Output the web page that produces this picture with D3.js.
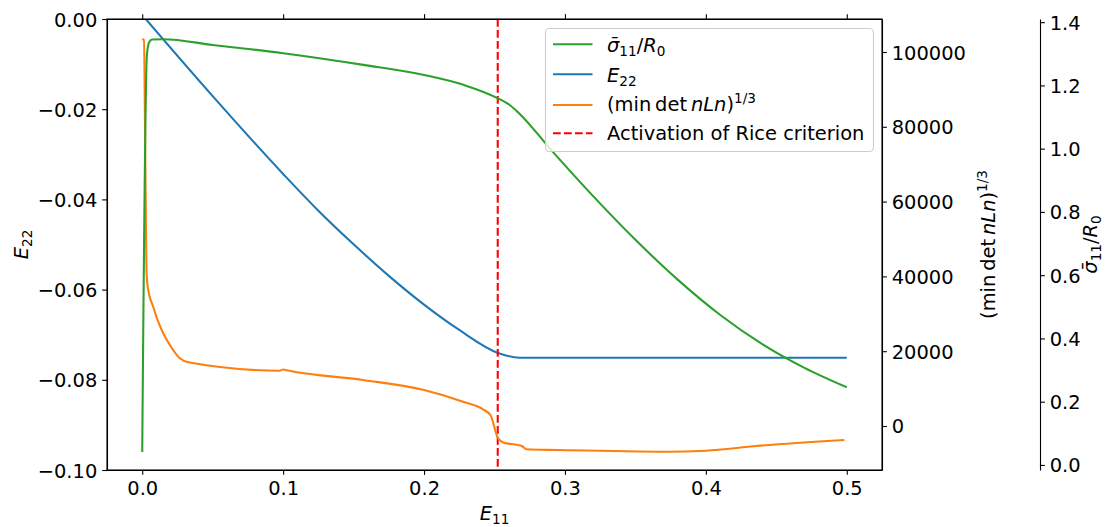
<!DOCTYPE html>
<html><head><meta charset="utf-8">
<script src="https://cdn.jsdelivr.net/npm/d3@7"></script>
<style>body{margin:0;background:#fff} svg{display:block} text{font-family:"DejaVu Sans",sans-serif;fill:#000}</style>
</head><body><svg id="c" width="1105" height="527"></svg>
<script>
// ---- data ----
const xTicks = [0, 0.1, 0.2, 0.3, 0.4, 0.5];
const e22Ticks = [0, -0.02, -0.04, -0.06, -0.08, -0.1];
const detTicks = [0, 20000, 40000, 60000, 80000, 100000];
const sigmaTicks = [0, 0.2, 0.4, 0.6, 0.8, 1.0, 1.2, 1.4];

const greenE11 = [0, 0.0033, 0.005, 0.007, 0.015, 0.05, 0.1, 0.157, 0.2, 0.2285, 0.2525, 0.2608, 0.2679, 0.29, 0.32, 0.35, 0.38, 0.41, 0.44, 0.47, 0.5];
const greenSigma = [0.041, 1.296, 1.337, 1.345, 1.346, 1.328, 1.302, 1.265, 1.233, 1.201, 1.159, 1.138, 1.110, 0.997, 0.850, 0.712, 0.586, 0.475, 0.382, 0.307, 0.2455];

const blueE11 = [0, 0.05, 0.1, 0.125, 0.15, 0.175, 0.2, 0.225, 0.2525, 0.2679, 0.3, 0.4, 0.5];
const blueE22 = [0.0009, -0.0171, -0.03435, -0.0425, -0.04995, -0.05695, -0.06333, -0.06895, -0.07404, -0.0751, -0.0751, -0.0751, -0.0751];

const orangeE11 = [0, 0.0012, 0.0021, 0.0026, 0.0031, 0.00426, 0.0078, 0.01135, 0.0149, 0.0196, 0.0267, 0.0326, 0.0977, 0.1, 0.1025, 0.1567, 0.2, 0.2277, 0.2418, 0.2471, 0.2523, 0.2565, 0.2667, 0.27, 0.2726, 0.294, 0.372, 0.4, 0.436, 0.4983];
const orangeDet = [103500, 103200, 75000, 55000, 40829, 36364, 31898, 27888, 24786, 21658, 18102, 17032, 14786, 15107, 14893, 12299, 9626, 6497, 4465, 2941, -3075, -4465, -5080, -5481, -6230, -6417, -6872, -6604, -5348, -3743];

const riceE11 = 0.2523;

// ---- layout ----
const L = 107, R = 882, T = 19, B = 470, AX3 = 1040;
const FS = 19.44, TL = 4.86, LW = 2.08, SW = 1.1;
const svg = d3.select('#c');

const x = d3.scaleLinear().domain([-0.025, 0.525]).range([L, R]);
const yE = d3.scaleLinear().domain([-0.1, 0]).range([B, T]);
const yD = d3.scaleLinear().domain([-11765, 108824]).range([B, T]);
const yS = d3.scaleLinear().domain([-0.016, 1.41]).range([B, T]);

svg.append('defs').append('clipPath').attr('id', 'clip')
  .append('rect').attr('x', L).attr('y', T).attr('width', R - L).attr('height', B - T);

function styleAxis(g) {
  g.attr('font-family', '"DejaVu Sans",sans-serif').attr('font-size', FS);
  g.selectAll('.domain').attr('stroke', '#000').attr('stroke-width', SW);
  g.selectAll('.tick line').attr('stroke', '#000').attr('stroke-width', SW);
  g.selectAll('.tick text').attr('fill', '#000');
}

// lines
const plot = svg.append('g').attr('clip-path', 'url(#clip)');
const zip = (a, b) => a.map((v, i) => [v, b[i]]);

plot.append('path').datum(zip(blueE11, blueE22))
  .attr('fill', 'none').attr('stroke', '#1f77b4').attr('stroke-width', LW)
  .attr('d', d3.line().x(d => x(d[0])).y(d => yE(d[1])).curve(d3.curveMonotoneX));

plot.append('line').attr('x1', x(riceE11)).attr('x2', x(riceE11)).attr('y1', T).attr('y2', B)
  .attr('stroke', '#ff0000').attr('stroke-width', LW).attr('stroke-dasharray', '7.7,3.3');

plot.append('path').datum(zip(orangeE11, orangeDet))
  .attr('fill', 'none').attr('stroke', '#ff7f0e').attr('stroke-width', LW).attr('stroke-linejoin', 'round')
  .attr('d', d3.line().x(d => x(d[0])).y(d => yD(d[1])).curve(d3.curveMonotoneX));

plot.append('path').datum(zip(greenE11, greenSigma))
  .attr('fill', 'none').attr('stroke', '#2ca02c').attr('stroke-width', LW)
  .attr('d', d3.line().x(d => x(d[0])).y(d => yS(d[1])).curve(d3.curveMonotoneX));

// axes
const gx = svg.append('g').attr('transform', `translate(0,${B})`)
  .call(d3.axisBottom(x).tickValues(xTicks).tickFormat(d3.format('.1f')).tickSize(TL).tickSizeOuter(0).tickPadding(TL));
styleAxis(gx);
gx.selectAll('.tick text').attr('y', 0).attr('dy', 25);

const gxt = svg.append('g').attr('transform', `translate(0,${T})`)
  .call(d3.axisTop(x).tickValues(xTicks).tickFormat('').tickSize(TL).tickSizeOuter(0));
styleAxis(gxt);

const gl = svg.append('g').attr('transform', `translate(${L},0)`)
  .call(d3.axisLeft(yE).tickValues(e22Ticks).tickFormat(d3.format('.2f')).tickSize(TL).tickSizeOuter(0).tickPadding(TL));
styleAxis(gl);
gl.selectAll('.tick text').attr('dy', '0.36em');

const gr = svg.append('g').attr('transform', `translate(${R},0)`)
  .call(d3.axisRight(yD).tickValues(detTicks).tickFormat(d3.format('d')).tickSize(TL).tickSizeOuter(0).tickPadding(TL));
styleAxis(gr);
gr.selectAll('.tick text').attr('dy', '0.36em');

const gs = svg.append('g').attr('transform', `translate(${AX3},0)`)
  .call(d3.axisRight(yS).tickValues(sigmaTicks).tickFormat(d3.format('.1f')).tickSize(TL).tickSizeOuter(0).tickPadding(TL));
styleAxis(gs);
gs.selectAll('.tick text').attr('dy', '0.36em');

// math-like text helper
function mtext(sel, parts, fs) {
  let shift = 0;
  parts.forEach(p => {
    let target = 0, size = fs;
    if (p.sub) { target = 0.22 * fs; size = 0.7 * fs; }
    if (p.sup) { target = -0.42 * fs; size = 0.7 * fs; }
    const ts = sel.append('tspan').text(p.t).attr('font-size', size);
    if (target - shift !== 0) ts.attr('dy', target - shift);
    if (p.it) ts.attr('font-style', 'italic');
    shift = target;
  });
}
const sigmaLabel = [{t: 'σ\u0304', it: true}, {t: '11', sub: true}, {t: '/'}, {t: 'R', it: true}, {t: '0', sub: true}];
const e22Label = [{t: 'E', it: true}, {t: '22', sub: true}];
const e11Label = [{t: 'E', it: true}, {t: '11', sub: true}];
const detLabel = [{t: '(min\u2009det\u2009'}, {t: 'nLn', it: true}, {t: ')'}, {t: '1/3', sup: true}];

// axis labels
mtext(svg.append('text').attr('text-anchor', 'middle').attr('font-size', FS)
  .attr('transform', `translate(${(L + R) / 2},520)`), e11Label, FS);
mtext(svg.append('text').attr('text-anchor', 'middle').attr('font-size', FS)
  .attr('transform', `translate(28,${(T + B) / 2}) rotate(-90)`), e22Label, FS);
mtext(svg.append('text').attr('text-anchor', 'middle').attr('font-size', FS)
  .attr('transform', `translate(995,${(T + B) / 2}) rotate(-90)`), detLabel, FS);
mtext(svg.append('text').attr('text-anchor', 'middle').attr('font-size', FS)
  .attr('transform', `translate(1097,${(T + B) / 2}) rotate(-90)`), sigmaLabel, FS);

// frame
svg.append('rect').attr('x', L).attr('y', T).attr('width', R - L).attr('height', B - T)
  .attr('fill', 'none').attr('stroke', '#000').attr('stroke-width', SW);

// legend
const leg = svg.append('g');
leg.append('rect').attr('x', 545.5).attr('y', 28.5).attr('width', 328).attr('height', 123).attr('rx', 4)
  .attr('fill', '#fff').attr('fill-opacity', 0.8).attr('stroke', '#cccccc').attr('stroke-width', 1.1);
const legItems = [
  {label: sigmaLabel, color: '#2ca02c', dash: null, ly: 44.3, ty: 51.7},
  {label: e22Label, color: '#1f77b4', dash: null, ly: 74.3, ty: 81.7},
  {label: detLabel, color: '#ff7f0e', dash: null, ly: 105, ty: 111},
  {label: [{t: 'Activation of Rice criterion'}], color: '#ff0000', dash: '7.7,3.3', ly: 133.3, ty: 140.2}
];
legItems.forEach(it => {
  const ln = leg.append('line').attr('x1', 553).attr('x2', 592.5).attr('y1', it.ly).attr('y2', it.ly)
    .attr('stroke', it.color).attr('stroke-width', LW);
  if (it.dash) ln.attr('stroke-dasharray', it.dash);
  mtext(leg.append('text').attr('x', 607).attr('y', it.ty).attr('font-size', FS), it.label, FS);
});
</script>
</body></html>
